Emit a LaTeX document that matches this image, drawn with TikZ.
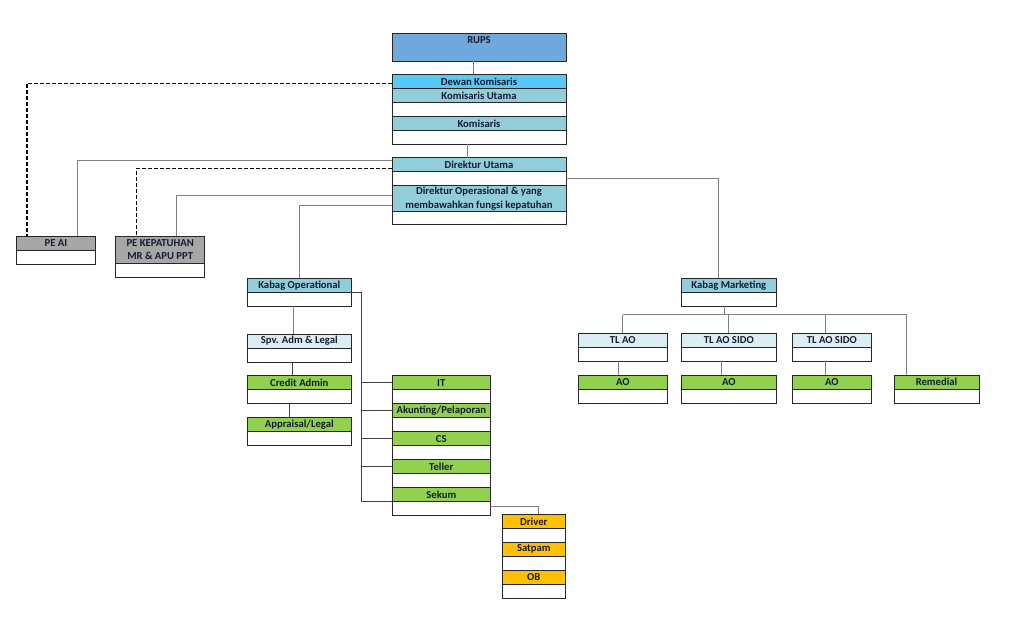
\documentclass[tikz,border=0pt]{standalone}
\usepackage{fontspec}
\setmainfont{Carlito}
\usetikzlibrary{positioning}
\definecolor{rupsblue}{RGB}{111,168,220}
\definecolor{dewanblue}{RGB}{88,200,246}
\definecolor{midblue}{RGB}{146,205,220}
\definecolor{paleblue}{RGB}{219,238,244}
\definecolor{leafgreen}{RGB}{146,208,80}
\definecolor{amber}{RGB}{255,192,0}
\definecolor{pegray}{RGB}{166,166,166}
\definecolor{inkblue}{RGB}{22,28,48}
\begin{document}
\begin{tikzpicture}[x=0.75pt,y=-0.75pt,
    box/.style={draw=black!85, line width=0.7pt, inner sep=0pt, outer sep=0pt, minimum height=10.5pt,
      font=\fontsize{8pt}{10pt}\selectfont\bfseries, text=inkblue, align=center},
    cell/.style={box, fill=white},
    bw/.style={minimum width=#1*0.75pt},
    link/.style={draw=black!50, line width=0.75pt},
    linkd/.style={draw=black!75, line width=0.75pt},
    dashlink/.style={draw=black, line width=0.9pt, dash pattern=on 3pt off 1.5pt}]
    \useasboundingbox (0,0) rectangle (1024,622);
    \node[box, fill=rupsblue, bw=174, minimum height=21pt, text height=7.5pt, text depth=13.5pt, anchor=north west] (rups) at (392,33) {RUPS};
    \node[box, fill=dewanblue, bw=174, anchor=north west] (dk) at (392,74.3) {Dewan Komisaris};
    \node[box, fill=midblue, bw=174, below=0pt of dk] (ku) {Komisaris Utama};
    \node[cell, bw=174, below=0pt of ku] (ku-b) {};
    \node[box, fill=midblue, bw=174, below=0pt of ku-b] (km) {Komisaris};
    \node[cell, bw=174, below=0pt of km] (km-b) {};
    \node[box, fill=midblue, bw=174, anchor=north west] (du) at (392,157.7) {Direktur Utama};
    \node[cell, bw=174, below=0pt of du] (du-b) {};
    \node[box, fill=midblue, bw=174, minimum height=19.5pt, below=0pt of du-b] (dop) {Direktur Operasional \& yang\\membawahkan fungsi kepatuhan};
    \node[cell, bw=174, minimum height=9.5pt, below=0pt of dop] (dop-b) {};
    \node[box, fill=pegray, bw=79, anchor=north west] (peai) at (16.5,236) {PE AI};
    \node[cell, bw=79, below=0pt of peai] (peai-b) {};
    \node[box, fill=pegray, bw=89, minimum height=20.25pt, anchor=north west] (pek) at (115.7,236) {PE KEPATUHAN\\MR \& APU PPT};
    \node[cell, bw=89, below=0pt of pek] (pek-b) {};
    \node[box, fill=midblue, bw=104, anchor=north west] (kop) at (247.3,278.3) {Kabag Operational};
    \node[cell, bw=104, below=0pt of kop] (kop-b) {};
    \node[box, fill=paleblue, bw=104, anchor=north west] (spv) at (247.3,334) {Spv. Adm \& Legal};
    \node[cell, bw=104, below=0pt of spv] (spv-b) {};
    \node[box, fill=leafgreen, bw=104, anchor=north west] (ca) at (247.3,375.3) {Credit Admin};
    \node[cell, bw=104, below=0pt of ca] (ca-b) {};
    \node[box, fill=leafgreen, bw=104, anchor=north west] (ap) at (247.3,417.3) {Appraisal/Legal};
    \node[cell, bw=104, below=0pt of ap] (ap-b) {};
    \node[box, fill=leafgreen, bw=98, anchor=north west] (it) at (392.3,375.7) {IT};
    \node[cell, bw=98, below=0pt of it] (it-b) {};
    \node[box, fill=leafgreen, bw=98, below=0pt of it-b] (ak) {Akunting/Pelaporan};
    \node[cell, bw=98, below=0pt of ak] (ak-b) {};
    \node[box, fill=leafgreen, bw=98, below=0pt of ak-b] (cs) {CS};
    \node[cell, bw=98, below=0pt of cs] (cs-b) {};
    \node[box, fill=leafgreen, bw=98, below=0pt of cs-b] (teller) {Teller};
    \node[cell, bw=98, below=0pt of teller] (teller-b) {};
    \node[box, fill=leafgreen, bw=98, below=0pt of teller-b] (sk) {Sekum};
    \node[cell, bw=98, below=0pt of sk] (sk-b) {};
    \node[box, fill=amber, bw=63, anchor=north west] (drv) at (502.3,514.3) {Driver};
    \node[cell, bw=63, below=0pt of drv] (drv-b) {};
    \node[box, fill=amber, bw=63, below=0pt of drv-b] (sat) {Satpam};
    \node[cell, bw=63, below=0pt of sat] (sat-b) {};
    \node[box, fill=amber, bw=63, below=0pt of sat-b] (ob) {OB};
    \node[cell, bw=63, below=0pt of ob] (ob-b) {};
    \node[box, fill=midblue, bw=95, anchor=north west] (kmk) at (681.3,278.3) {Kabag Marketing};
    \node[cell, bw=95, below=0pt of kmk] (kmk-b) {};
    \node[box, fill=paleblue, bw=89, anchor=north west] (tlao) at (578.3,333.3) {TL AO};
    \node[cell, bw=89, below=0pt of tlao] (tlao-b) {};
    \node[box, fill=paleblue, bw=95, anchor=north west] (tls1) at (681.3,333.3) {TL AO SIDO};
    \node[cell, bw=95, below=0pt of tls1] (tls1-b) {};
    \node[box, fill=paleblue, bw=79, anchor=north west] (tls2) at (792.3,333.3) {TL AO SIDO};
    \node[cell, bw=79, below=0pt of tls2] (tls2-b) {};
    \node[box, fill=leafgreen, bw=89, anchor=north west] (ao1) at (578.3,375) {AO};
    \node[cell, bw=89, below=0pt of ao1] (ao1-b) {};
    \node[box, fill=leafgreen, bw=95, anchor=north west] (ao2) at (681.3,375) {AO};
    \node[cell, bw=95, below=0pt of ao2] (ao2-b) {};
    \node[box, fill=leafgreen, bw=79, anchor=north west] (ao3) at (792.3,375) {AO};
    \node[cell, bw=79, below=0pt of ao3] (ao3-b) {};
    \node[box, fill=leafgreen, bw=85, anchor=north west] (rem) at (894,375) {Remedial};
    \node[cell, bw=85, below=0pt of rem] (rem-b) {};
    \draw[link] ([xshift=-4.5pt]rups.south) -- ([xshift=-4.5pt]dk.north);
    \draw[link] ([xshift=-8.5pt]km-b.south) -- ([xshift=-8.5pt]du.north);
    \draw[dashlink] ([yshift=-1.5pt]dk.west) -| ([xshift=7.8pt]peai.north west);
    \draw[link] ([yshift=-2.25pt]du.north west) -| ([xshift=45.75pt]peai.north west);
    \draw[dashlink] ([yshift=-8pt]du.north west) -| ([xshift=15.75pt]pek.north west);
    \draw[link] ([yshift=-7.2pt]dop.north west) -| ([xshift=45.75pt]pek.north west);
    \draw[link] ([yshift=-15.2pt]dop.north west) -| (kop.north);
    \draw[link] (du-b.east) -| ([xshift=-8pt]kmk.north);
    \draw[link] ([xshift=-4pt]kop-b.south) -- ([xshift=-4pt]spv.north);
    \draw[linkd] ([xshift=-5pt]spv-b.south) -- ([xshift=-5pt]ca.north);
    \draw[linkd] ([xshift=-7.5pt]ca-b.south) -- ([xshift=-7.5pt]ap.north);
    \coordinate (opbus) at ([xshift=8pt]kop.south east);
    \draw[linkd] (kop.south east) -| (opbus |- sk.south);
    \foreach \n in {it,ak,cs,teller}
        \draw[linkd] (opbus |- \n.west) -- (\n.west);
    \draw[linkd] (opbus |- sk.south) -- (sk.south west);
    \draw[link] ([yshift=1.5pt]sk-b.east) -| ([xshift=3.5pt]drv.north);
    \coordinate (mkbus) at ([xshift=-3pt,yshift=-6.4pt]kmk-b.south);
    \coordinate (remtop) at ([xshift=9.5pt]rem.north west);
    \draw[link] ([xshift=-3pt]kmk-b.south) -- (mkbus);
    \draw[link] (tlao.north |- mkbus) -- (remtop |- mkbus);
    \draw[link] (tlao.north |- mkbus) -- (tlao.north);
    \draw[link] (tls1.north |- mkbus) -- (tls1.north);
    \draw[link] ([xshift=-4.5pt]tls2.north |- mkbus) -- ([xshift=-4.5pt]tls2.north);
    \draw[link] (remtop |- mkbus) -- (remtop);
    \draw[link] ([xshift=-3pt]tlao-b.south) -- ([xshift=-3pt]ao1.north);
    \draw[link] ([xshift=-5.5pt]tls1-b.south) -- ([xshift=-5.5pt]ao2.north);
    \draw[link] ([xshift=-4.5pt]tls2-b.south) -- ([xshift=-4.5pt]ao3.north);
\end{tikzpicture}
\end{document}
